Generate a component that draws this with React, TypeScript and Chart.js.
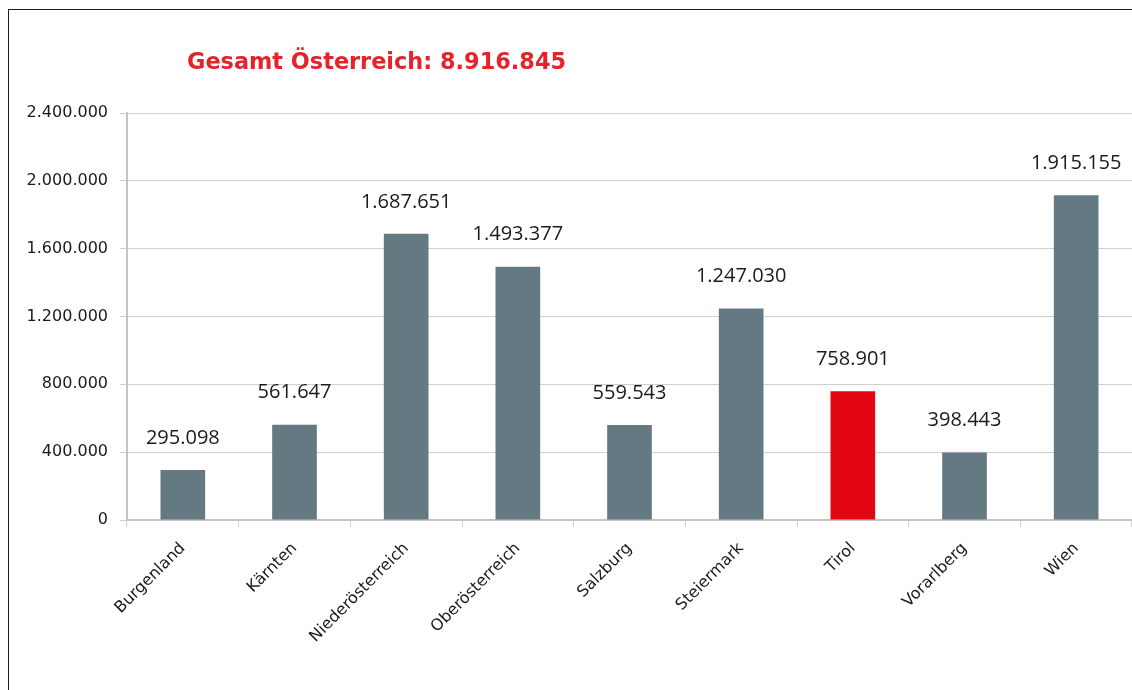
import React, { useEffect, useRef } from "react";
import { Chart, registerables } from "chart.js";

Chart.register(...registerables);

const categories = [
  "Burgenland",
  "Kärnten",
  "Niederösterreich",
  "Oberösterreich",
  "Salzburg",
  "Steiermark",
  "Tirol",
  "Vorarlberg",
  "Wien",
];
const population = [295098, 561647, 1687651, 1493377, 559543, 1247030, 758901, 398443, 1915155];
const highlighted = ["Tirol"];
const titleText = "Gesamt Österreich: 8.916.845";
const yMin = 0;
const yMax = 2400000;
const yStep = 400000;

const fmt = (v: number) => String(Math.round(v)).replace(/\B(?=(\d{3})+(?!\d))/g, ".");

const BAR_COLOR = "#657983";
const HIGHLIGHT_COLOR = "#e20613";
const TEXT_COLOR = "#1a1a1a";
const GRID_COLOR = "#cfcfcf";
const AXIS_COLOR = "#c4c4c4";

const titlePlugin = {
  id: "austriaTitle",
  afterDraw(chart: any) {
    const { ctx, chartArea } = chart;
    ctx.save();
    ctx.font = "bold 22.4px 'DejaVu Sans'";
    ctx.fillStyle = "#e5232b";
    ctx.textAlign = "left";
    ctx.textBaseline = "middle";
    ctx.fillText(titleText, chartArea.left + 60, chartArea.top - 50);
    ctx.restore();
  },
};

const valueLabelPlugin = {
  id: "valueLabels",
  afterDatasetsDraw(chart: any) {
    const { ctx } = chart;
    const meta = chart.getDatasetMeta(0);
    const values = chart.data.datasets[0].data as number[];
    ctx.save();
    ctx.font = "20px 'Open Sans'";
    ctx.fillStyle = TEXT_COLOR;
    ctx.textAlign = "center";
    ctx.textBaseline = "middle";
    meta.data.forEach((bar: any, i: number) => {
      ctx.fillText(fmt(values[i]), bar.x, bar.y - 32);
    });
    ctx.restore();
  },
};

export default function App() {
  const canvasRef = useRef<HTMLCanvasElement | null>(null);

  useEffect(() => {
    if (!canvasRef.current) return;
    const axisFont = { family: "'DejaVu Sans'", size: 16 };
    const chart = new Chart(canvasRef.current, {
      type: "bar",
      data: {
        labels: categories,
        datasets: [
          {
            data: population,
            backgroundColor: categories.map((c) => (highlighted.includes(c) ? HIGHLIGHT_COLOR : BAR_COLOR)),
            borderWidth: 0,
            categoryPercentage: 1,
            barPercentage: 0.4,
          },
        ],
      },
      options: {
        responsive: false,
        animation: false,
        devicePixelRatio: 1,
        layout: { padding: { top: 113, left: 0, right: 0, bottom: 0 } },
        plugins: {
          legend: { display: false },
          tooltip: { enabled: false },
          title: { display: false },
        },
        scales: {
          x: {
            grid: {
              display: true,
              drawOnChartArea: false,
              drawTicks: true,
              tickLength: 7,
              color: GRID_COLOR,
              offset: true,
            },
            border: { color: AXIS_COLOR, width: 2 },
            ticks: {
              minRotation: 45,
              maxRotation: 45,
              autoSkip: false,
              font: axisFont,
              color: TEXT_COLOR,
              padding: 12,
            },
            afterFit: (s: any) => {
              s.height = 170;
              s.paddingLeft = 0;
              s.paddingRight = 0;
            },
          },
          y: {
            min: yMin,
            max: yMax,
            ticks: {
              stepSize: yStep,
              callback: (v: any) => fmt(Number(v)),
              font: axisFont,
              color: TEXT_COLOR,
              padding: 12,
            },
            grid: { color: GRID_COLOR, tickLength: 7, lineWidth: 1 },
            border: { color: AXIS_COLOR, width: 2 },
            afterFit: (s: any) => {
              s.width = 127;
              s.paddingTop = 0;
              s.paddingBottom = 0;
            },
          },
        },
      } as any,
      plugins: [titlePlugin, valueLabelPlugin],
    });
    return () => chart.destroy();
  }, []);

  return (
    <div>
      <canvas
        ref={canvasRef}
        width={1132}
        height={690}
        style={{ position: "fixed", left: 0, top: 0, width: 1132, height: 690, display: "block" }}
      />
      <div
        style={{
          position: "fixed",
          left: 8,
          top: 9,
          width: 1124,
          height: 681,
          borderLeft: "1px solid #1f1f1f",
          borderTop: "1px solid #1f1f1f",
          boxSizing: "border-box",
          pointerEvents: "none",
        }}
      />
    </div>
  );
}
